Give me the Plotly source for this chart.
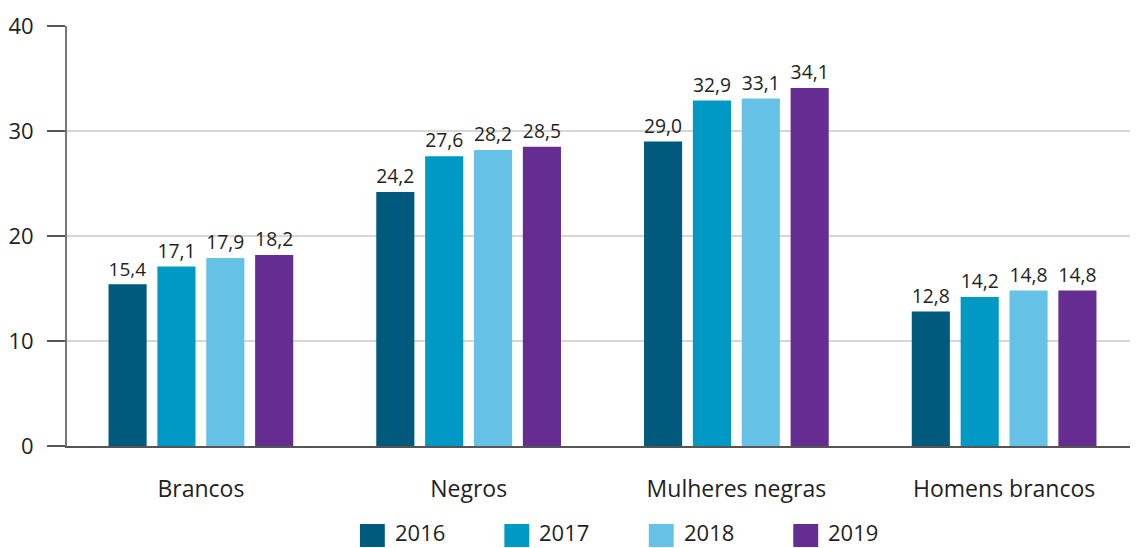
import plotly.graph_objects as go

categories = ["Brancos", "Negros", "Mulheres negras", "Homens brancos"]
years = ["2016", "2017", "2018", "2019"]
v2016 = [15.4, 24.2, 29.0, 12.8]
v2017 = [17.1, 27.6, 32.9, 14.2]
v2018 = [17.9, 28.2, 33.1, 14.8]
v2019 = [18.2, 28.5, 34.1, 14.8]
series = [v2016, v2017, v2018, v2019]
colors = ["#005a7d", "#0098c4", "#66c1e6", "#662d91"]
yticks = [0, 10, 20, 30, 40]

FONT = "Open Sans"
TXT = "#231f20"

# page body has an 8px margin; figure sits at (8, 8)
OFF = 8
W, H = 1138 - OFF, 548 - OFF
ML, MR, MT, MB = 63 - OFF, 0, 26 - OFF, 102
PW, PH = W - ML - MR, H - MT - MB

fig = go.Figure()
for y, vals, c in zip(years, series, colors):
    fig.add_trace(go.Bar(
        x=categories, y=vals, name=y, marker=dict(color=c, line=dict(width=0)),
        text=[f"{v:.1f}".replace(".", ",") for v in vals],
        textposition="outside", cliponaxis=False,
        textfont=dict(family=FONT, size=20, color=TXT),
        showlegend=False,
    ))

def px_x(px):
    return (px - OFF - ML) / PW

def px_y(py):
    return (H - MB - (py - OFF)) / PH

shapes = []
annotations = []
leg_x = [357, 502, 647, 792]
for lx, y, c in zip(leg_x, years, colors):
    shapes.append(dict(type="rect", xref="paper", yref="paper",
                       x0=px_x(lx), x1=px_x(lx + 25), y0=px_y(547), y1=px_y(524),
                       fillcolor=c, line=dict(width=0)))
    annotations.append(dict(xref="paper", yref="paper", x=px_x(lx + 34), y=px_y(548),
                            text=y, showarrow=False, xanchor="left", yanchor="bottom",
                            borderpad=0,
                            font=dict(family=FONT, size=22, color=TXT)))

fig.update_layout(
    width=W, height=H,
    margin=dict(l=ML, r=MR, t=MT, b=MB, pad=0),
    paper_bgcolor="white", plot_bgcolor="white",
    barmode="group", bargap=0.27, bargroupgap=0.22,
    font=dict(family=FONT, color=TXT),
    shapes=shapes, annotations=annotations,
    xaxis=dict(showgrid=False, showline=True, linecolor="#555555", linewidth=2,
               ticks="", tickfont=dict(family=FONT, size=23, color=TXT),
               ticklabelstandoff=21, zeroline=False),
    yaxis=dict(range=[0, 40], tickvals=yticks, ticktext=[str(t) for t in yticks],
               showgrid=True, gridcolor="#d6d6d6", gridwidth=1.5,
               showline=True, linecolor="#777777", linewidth=2,
               ticks="outside", ticklen=18, tickcolor="#555555", tickwidth=2,
               tickfont=dict(family=FONT, size=22, color=TXT),
               ticklabelstandoff=9, zeroline=False),
)

fig.write_html("out.html")
